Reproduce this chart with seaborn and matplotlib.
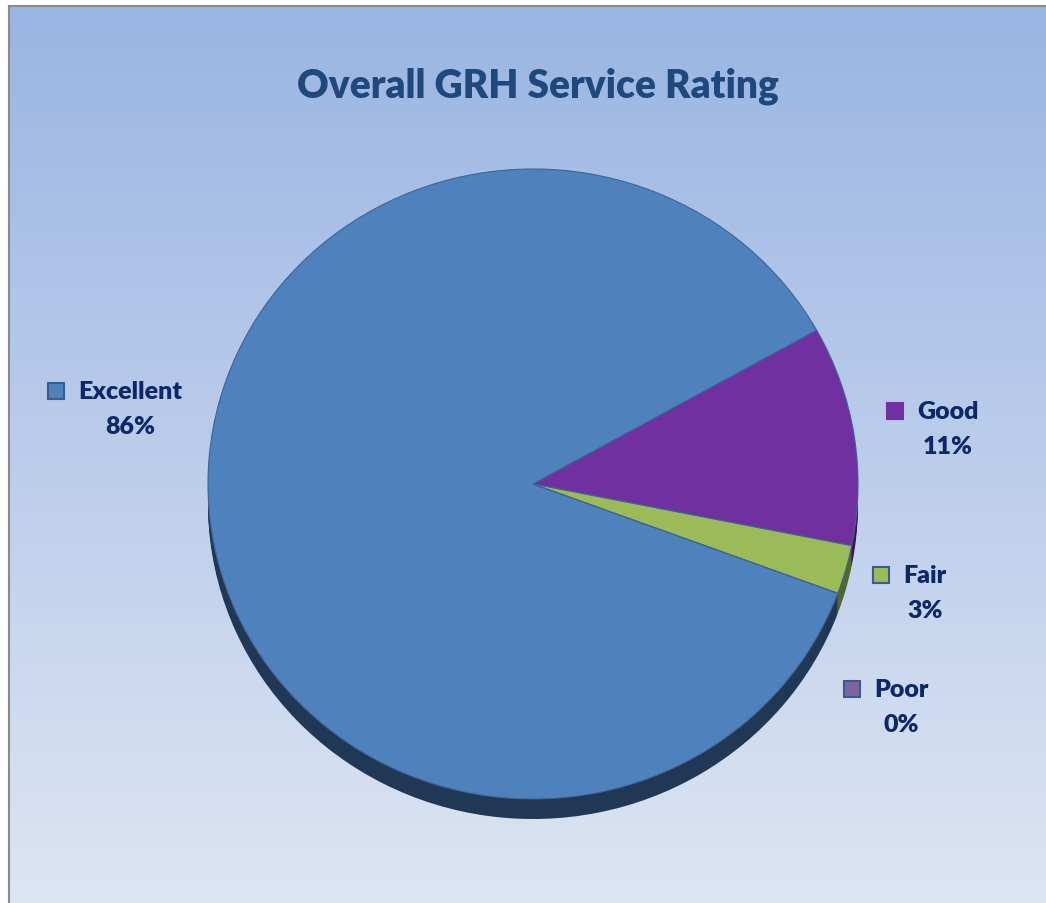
import numpy as np
import matplotlib
matplotlib.use("Agg")
import matplotlib.pyplot as plt
from matplotlib.colors import LinearSegmentedColormap
from matplotlib.patches import Rectangle
import seaborn as sns

# data
categories = ["Excellent", "Good", "Fair", "Poor"]
responses = [69, 9, 2, 0]
slice_colors = ["#4F81BD", "#7030A0", "#9BBB59", "#8064A2"]
side_colors = ["#203755", "#3A1656", "#52672F", "#41325C"]
marker_edges = ["#385D8A", "#7030A0", "#385D8A", "#385D8A"]
title = "Overall GRH Service Rating"

sns.set_style("white")
plt.rcParams["font.family"] = ["Lato", "DejaVu Sans"]

W, H = 1046, 904
fig = plt.figure(figsize=(W / 100, H / 100), dpi=100, facecolor="white")

# gradient panel, frame runs off the right and bottom edge
bg = fig.add_axes([9 / W, 0, (W - 9) / W, (H - 7) / H])
grad = np.linspace(0, 1, 256).reshape(-1, 1)
cmap = LinearSegmentedColormap.from_list("bg", ["#9AB5E3", "#DDE5F3"])
bg.imshow(grad, aspect="auto", cmap=cmap, extent=[0, 1, 0, 1], origin="upper")
bg.set_xticks([])
bg.set_yticks([])
for s in ["left", "top"]:
    bg.spines[s].set_color("#8A8A8A")
    bg.spines[s].set_linewidth(1.5)
for s in ["right", "bottom"]:
    bg.spines[s].set_visible(False)

# pie, slightly squashed, with an extruded dark side
cx, cy, rx, ry = 533, 485, 325, 315
ax = fig.add_axes([0, 0, 1, 1])
ax.patch.set_alpha(0)
depth = 20 / ry
common = dict(counterclock=False, startangle=339.7, radius=1)
for k in np.linspace(depth, 0, 8)[:-1]:
    ax.pie(responses, colors=side_colors, center=(0, -k),
           wedgeprops=dict(linewidth=0), **common)
ax.pie(responses, colors=slice_colors, center=(0, 0),
       wedgeprops=dict(linewidth=0.8, edgecolor="#3E6594"), **common)
ax.set_aspect("auto")
ax.set_xlim(-cx / rx, (W - cx) / rx)
ax.set_ylim(-(H - cy) / ry, cy / ry)
ax.axis("off")

fig.text(538 / W, 1 - 86 / H, title, ha="center", va="center",
         fontsize=28, weight="heavy", color="#1F497D")

# data labels with legend keys
label_xy = [(130, 392), (948, 412), (925, 576), (901, 690)]
pct_gap = 35
total = sum(responses)
renderer = fig.canvas.get_renderer()
txt_color = "#0E2766"
for name, n, col, edge, (lx, ly) in zip(categories, responses, slice_colors,
                                         marker_edges, label_xy):
    pct = int(np.floor(100 * n / total + 0.5))
    t = fig.text(lx / W, 1 - ly / H, name, ha="center", va="center",
                 fontsize=18, weight="heavy", color=txt_color)
    fig.text(lx / W, 1 - (ly + pct_gap) / H, f"{pct}%", ha="center", va="center",
             fontsize=18, weight="heavy", color=txt_color)
    bb = t.get_window_extent(renderer)
    sq = 16
    x0 = bb.x0 - 14 - sq
    fig.patches.append(Rectangle((x0 / W, (H - ly - sq / 2) / H), sq / W, sq / H,
                                 transform=fig.transFigure, facecolor=col,
                                 edgecolor=edge, linewidth=1.5))

fig.savefig("out.png", dpi=100, facecolor="white")
